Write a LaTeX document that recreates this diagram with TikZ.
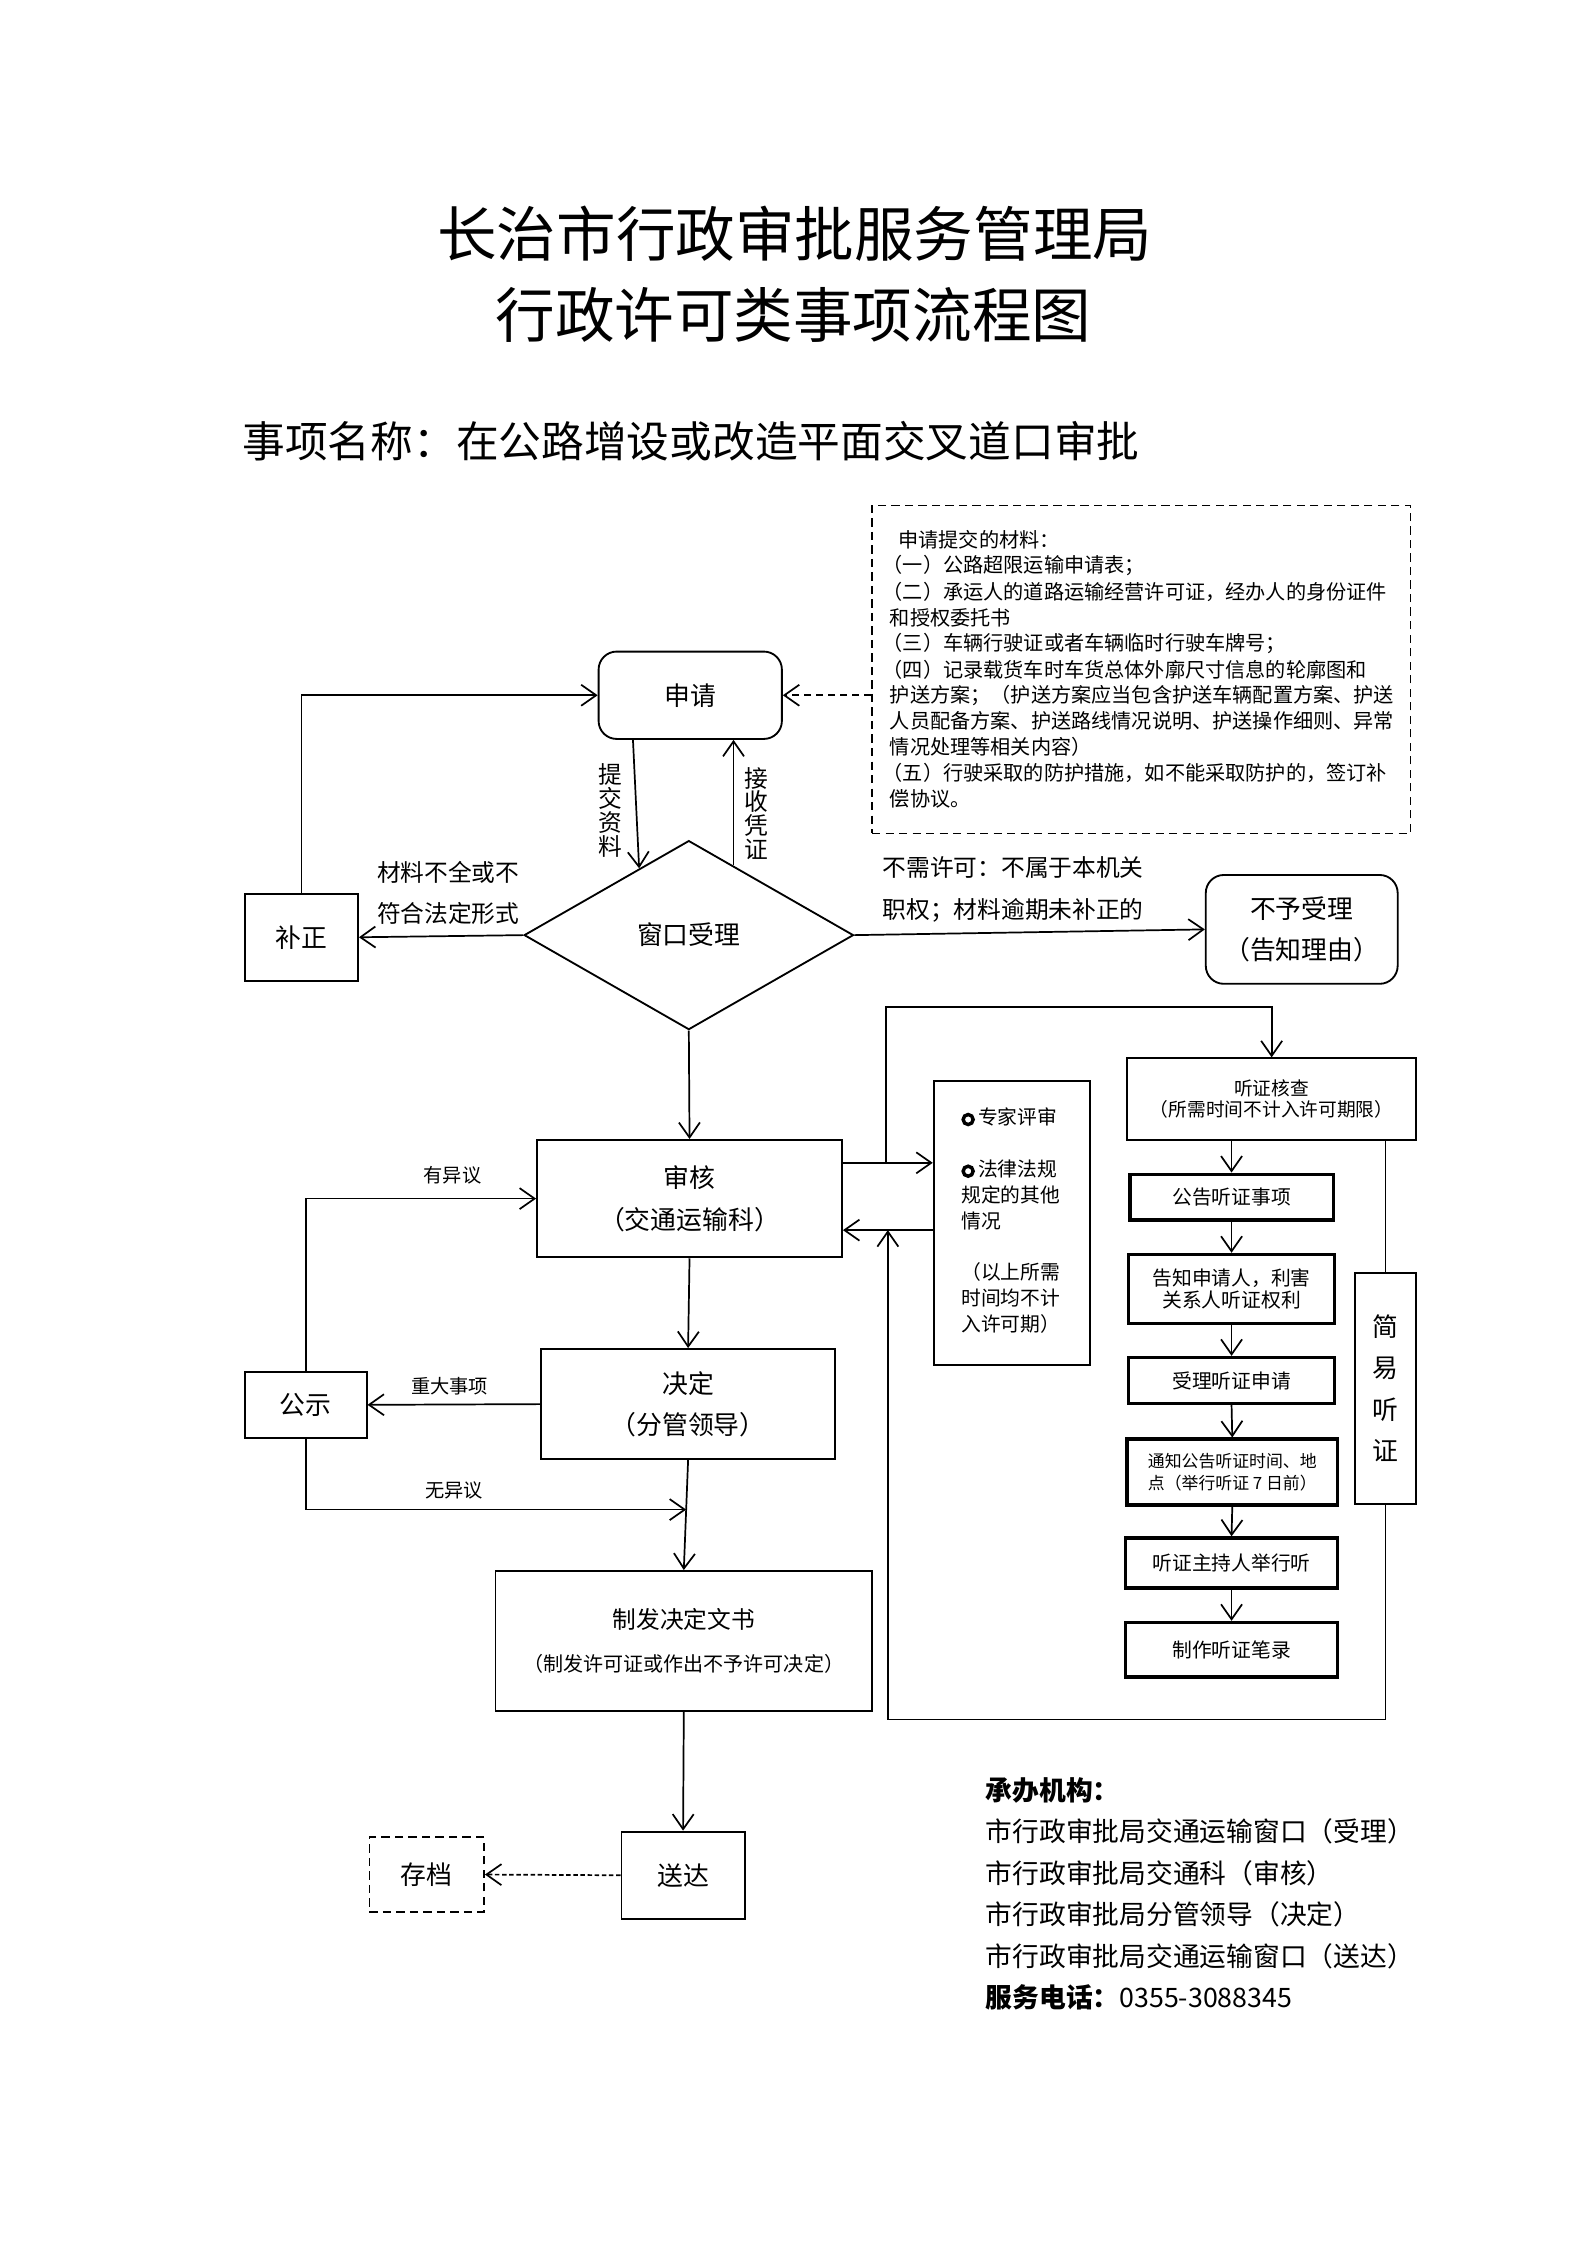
\documentclass[tikz,border=0pt]{standalone}
\usepackage{fontspec}
\setmainfont{Noto Sans CJK SC}
\usepackage{tikz}
\usetikzlibrary{shapes.geometric,arrows.meta,calc}

\newcommand{\ring}{\tikz[baseline=-0.5ex]\draw[line width=1.3pt] (0,0) circle (1.9pt);\,}

\tikzset{
  sz/.style 2 args={minimum width=#1*0.19091mm, minimum height=#2*0.19091mm},
  box/.style={draw, line width=0.7pt, inner sep=0pt, align=center},
  bbox/.style={draw, line width=1.3pt, inner sep=0pt, align=center},
  rbox/.style={box, rounded corners=2.4mm},
  dbox/.style={box, dash pattern=on 1.1mm off 0.7mm},
  flow/.style={-{Straight Barb[length=2mm,width=2.8mm]}, line width=0.65pt},
  txt/.style={inner sep=0pt, align=center},
  fa/.style={font=\fontsize{9.8}{15.75}\selectfont},
  fb/.style={font=\fontsize{9}{15.75}\selectfont},
  fv/.style={font=\fontsize{9}{9}\selectfont},
  fc/.style={font=\fontsize{7.5}{9.8}\selectfont},
  fd/.style={font=\fontsize{7.1}{7.8}\selectfont},
  fe/.style={font=\fontsize{7.3}{9}\selectfont},
}

\begin{document}
\begin{tikzpicture}[x=0.19091mm,y=-0.19091mm]
\useasboundingbox (0,0) rectangle (1108.3,1567.7);
\node[txt,font=\fontsize{22.6}{31}\selectfont] (title1) at (555,163) {长治市行政审批服务管理局};
\node[txt,font=\fontsize{22.6}{31}\selectfont] (title2) at (554,220) {行政许可类事项流程图};
\node[txt,anchor=west,font=\fontsize{16.2}{20}\selectfont] (name) at (169,308) {事项名称：在公路增设或改造平面交叉道口审批};

\node[dbox,sz={376}{229}] (mat) at (797,467.5) {};
\foreach \x/\t [count=\i] in {627/{申请提交的材料：},616/{（一）公路超限运输申请表；},616/{（二）承运人的道路运输经营许可证，经办人的身份证件},621/{和授权委托书},616/{（三）车辆行驶证或者车辆临时行驶车牌号；},616/{（四）记录载货车时车货总体外廓尺寸信息的轮廓图和},621/{护送方案；（护送方案应当包含护送车辆配置方案、护送},621/{人员配备方案、护送路线情况说明、护送操作细则、异常},621/{情况处理等相关内容）},616/{（五）行驶采取的防护措施，如不能采取防护的，签订补},621/{偿协议。}}
  \node[txt,anchor=west,font=\fontsize{7.65}{9.8}\selectfont] (mat\i) at (\x,{377+18.1*(\i-1)}) {\t};

\node[rbox,sz={128}{61},fa] (sq) at (482,485.5) {申请};
\node[draw,diamond,line width=0.7pt,inner sep=0pt,sz={230}{132},fa] (ck) at (481,653) {窗口受理};
\node[box,sz={79}{61},fa] (bz) at (210.5,654.5) {补正};
\node[rbox,sz={134}{76},fa] (byl) at (909,649) {不予受理\\（告知理由）};
\node[box,sz={213}{82},fa] (sh) at (481.5,837) {审核\\（交通运输科）};
\node[box,sz={205}{77},fa] (jd) at (480.5,980.5) {决定\\（分管领导）};
\node[box,sz={85}{46},fa] (gs) at (213.5,981) {公示};
\node[box,sz={263}{98},font=\fontsize{9}{16.3}\selectfont] (zf) at (477.5,1146) {制发决定文书\\{\fontsize{7.6}{16.3}\selectfont（制发许可证或作出不予许可决定）}};
\node[box,sz={86}{61},fa] (sd) at (477,1309.5) {送达};
\node[dbox,sz={80}{52},fa] (cd) at (298,1309) {存档};

\node[box,sz={109}{198}] (zj) at (706.5,854) {};
\node[txt,anchor=west,align=left,fc] (zjt) at (671,852.5) {\ring 专家评审\\[9.8pt]\ring 法律法规\\规定的其他\\情况\\[9.8pt]（以上所需\\时间均不计\\入许可期）};

\node[box,sz={202}{57},fd] (tz) at (888,767.5) {听证核查\\（所需时间不计入许可期限）};
\node[bbox,sz={142}{32},fc] (gg) at (860,836) {公告听证事项};
\node[bbox,sz={144}{48},font=\fontsize{7.5}{8.2}\selectfont] (gz) at (860,900) {告知申请人，利害\\关系人听证权利};
\node[bbox,sz={144}{32},fc] (sl) at (860,964) {受理听证申请};
\node[bbox,sz={147}{46},align=left,font=\fontsize{6.4}{8.1}\selectfont] (tzgg) at (860.5,1028) {通知公告听证时间、地\\点（举行听证 7 日前）};
\node[bbox,sz={148}{35},fc] (zc) at (860,1091.5) {听证主持人举行听};
\node[bbox,sz={148}{38},fc] (bl) at (860,1152) {制作听证笔录};
\node[box,sz={43}{161},fa] (jy) at (967.5,969.5) {简\\易\\听\\证};

\node[txt,fb] (lb1) at (313,623.5) {材料不全或不\\符合法定形式};
\node[txt,fb,align=left] (lb2) at (707.5,621) {不需许可：不属于本机关\\职权；材料逾期未补正的};
\node[txt,fv] (lb3) at (426,566) {提\\交\\资\\料};
\node[txt,fv] (lb4) at (528,568) {接\\收\\凭\\证};
\node[txt,fe] (lb5) at (316,821) {有异议};
\node[txt,fe] (lb6) at (314,968) {重大事项};
\node[txt,fe] (lb7) at (317,1041) {无异议};

\node[txt,align=left,anchor=west,font=\fontsize{10.15}{15.75}\selectfont] (org) at (688,1322.5) {\textbf{承办机构：}\\市行政审批局交通运输窗口（受理）\\市行政审批局交通科（审核）\\市行政审批局分管领导（决定）\\市行政审批局交通运输窗口（送达）\\\textbf{服务电话：}0355-3088345};

\draw[flow,dash pattern=on 1mm off 0.6mm] (mat.west |- sq.east) -- (sq.east);
\draw[flow] ($(sq.south)+(-40,0)$) -- ($(ck.north)!0.3!(ck.west)$);
\coordinate (js) at ($(ck.north)!0.27!(ck.east)$);
\draw[flow] (js) -- (js |- sq.south);
\draw[flow] (bz.north) |- (sq.west);
\draw[flow] (ck.west) -- (bz.east);
\draw[flow] (ck.east) -- (byl.west);
\draw[flow] (ck.south) -- (sh.north);
\draw[flow] (sh.south) -- (jd.north);
\draw[flow] (jd.west) -- (gs.east);
\draw[flow] (gs.north) |- (sh.west);
\coordinate (wy) at ($(jd.south)!0.45!(zf.north)$);
\draw[flow] (gs.south) |- (wy);
\draw[flow] (jd.south) -- (zf.north);
\draw[flow] (zf.south) -- (sd.north);
\draw[flow,dash pattern=on 0.6mm off 0.35mm] (sd.west) -- (cd.east);

\coordinate (ra) at ($(sh.east)+(0,-25)$);
\coordinate (rb) at ($(sh.east)+(0,22)$);
\draw[flow] (ra) -- (ra -| zj.west);
\draw[flow] (rb -| zj.west) -- (rb);
\coordinate (rc) at ($(ra)!0.48!(ra -| zj.west)$);
\coordinate (rd) at ($(rb)!0.5!(rb -| zj.west)$);
\draw[flow] (rc) -- ++(0,-109) -| (tz.north);
\draw[line width=0.65pt] (tz.south -| jy.north) -- (jy.north);
\draw[flow] (jy.south) -- ++(0,150) -| (rd);
\draw[flow] (gg.north |- tz.south) -- (gg.north);
\foreach \a/\b in {gg/gz,gz/sl,sl/tzgg,tzgg/zc,zc/bl}
  \draw[flow] (\a.south) -- (\b.north);
\end{tikzpicture}
\end{document}
